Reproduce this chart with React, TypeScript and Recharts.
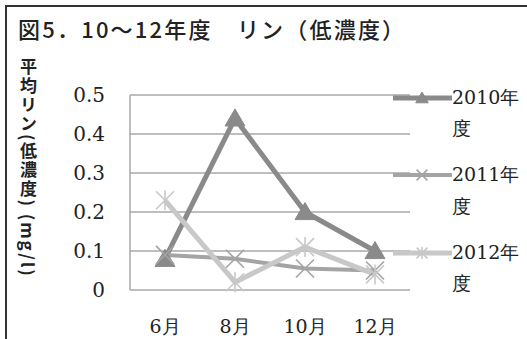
import React from 'react';
import { LineChart, Line, XAxis, YAxis, CartesianGrid } from 'recharts';

const months = ['6月', '8月', '10月', '12月'];
const y2010 = [0.08, 0.44, 0.2, 0.1];
const y2011 = [0.09, 0.08, 0.055, 0.05];
const y2012 = [0.23, 0.02, 0.11, 0.04];
const yTicks = [0, 0.1, 0.2, 0.3, 0.4, 0.5];

const seriesInfo = [
  { key: 's2010', name: '2010年', tail: '度', color: '#8a8a8a', width: 5, marker: 'triangle' },
  { key: 's2011', name: '2011年', tail: '度', color: '#a4a4a4', width: 4, marker: 'x' },
  { key: 's2012', name: '2012年', tail: '度', color: '#c8c8c8', width: 5, marker: 'star' },
];

const data = months.map((m, i) => ({
  month: m,
  s2010: y2010[i],
  s2011: y2011[i],
  s2012: y2012[i],
}));

const serif = '"DejaVu Serif", "Liberation Serif", serif';
const gothic = '"Noto Sans CJK JP", sans-serif';

function Marker({ type, cx, cy, color, r }: { type: string; cx: number; cy: number; color: string; r: number }) {
  if (type === 'triangle') {
    return (
      <path
        d={`M${cx},${cy - r} L${cx + r * 1.05},${cy + r * 0.8} L${cx - r * 1.05},${cy + r * 0.8} Z`}
        fill={color}
        stroke={color}
        strokeWidth={1}
      />
    );
  }
  const lines = [
    <line key="a" x1={cx - r * 0.9} y1={cy - r * 0.9} x2={cx + r * 0.9} y2={cy + r * 0.9} stroke={color} strokeWidth={1.6} />,
    <line key="b" x1={cx - r * 0.9} y1={cy + r * 0.9} x2={cx + r * 0.9} y2={cy - r * 0.9} stroke={color} strokeWidth={1.6} />,
  ];
  if (type === 'star') {
    lines.push(<line key="c" x1={cx} y1={cy - r} x2={cx} y2={cy + r} stroke={color} strokeWidth={1.6} />);
  }
  return <g>{lines}</g>;
}

const makeDot = (type: string, color: string) => (props: any) => {
  const { cx, cy, index } = props;
  if (cx == null || cy == null) return <g key={index} />;
  return (
    <g key={index}>
      <Marker type={type} cx={cx} cy={cy} color={color} r={type === 'triangle' ? 9.5 : 10} />
    </g>
  );
};

// legend drawn beside the plot (as in the original, it overlaps the gridline ends)
function SideLegend() {
  return (
    <div style={{ position: 'absolute', left: 393, top: 82, width: 134, fontFamily: serif, fontSize: 19, color: '#222' }}>
      {seriesInfo.map((s) => (
        <div key={s.key} style={{ height: 77.5 }}>
          <div style={{ display: 'flex', alignItems: 'center', height: 31 }}>
            <svg width={59} height={20} style={{ display: 'block' }}>
              <line x1={0} y1={10} x2={59} y2={10} stroke={s.color} strokeWidth={s.width} strokeLinecap="round" />
              <Marker type={s.marker} cx={29} cy={10} color={s.color} r={6} />
            </svg>
            <span style={{ whiteSpace: 'nowrap' }}>{s.name}</span>
          </div>
          <div style={{ height: 31, lineHeight: '31px', marginLeft: 59 }}>{s.tail}</div>
        </div>
      ))}
    </div>
  );
}

export default function App() {
  return (
    <div style={{ position: 'absolute', left: 0, top: 0, width: 527, height: 339, background: '#fff', overflow: 'hidden' }}>
      <div style={{ position: 'absolute', left: 5, top: 5, width: 522, height: 334, borderLeft: '2px solid #333', borderTop: '2px solid #333' }} />
      <div
        style={{
          position: 'absolute',
          left: 18,
          top: 12,
          fontFamily: gothic,
          fontSize: 22,
          fontWeight: 500,
          color: '#222',
          whiteSpace: 'nowrap',
          letterSpacing: 2.2,
          lineHeight: '32px',
        }}
      >
        図5．10～12年度　リン（低濃度）
      </div>
      <div
        style={{
          position: 'absolute',
          left: 19,
          top: 58,
          writingMode: 'vertical-rl',
          fontFamily: gothic,
          fontSize: 17,
          fontWeight: 700,
          color: '#222',
          whiteSpace: 'nowrap',
          lineHeight: '18px',
          letterSpacing: 2,
        }}
      >
        平均リン(低濃度) (mg/l)
      </div>
      <LineChart
        width={527}
        height={339}
        data={data}
        margin={{ top: 95, right: 117, bottom: 19, left: 80 }}
        style={{ position: 'absolute', left: 0, top: 0 }}
      >
        <CartesianGrid vertical={false} stroke="#a8a8a8" strokeWidth={1.5} />
        <XAxis
          dataKey="month"
          height={30}
          padding={{ left: 35, right: 35 }}
          axisLine={false}
          tickLine={false}
          tickSize={0}
          tickMargin={30}
          tick={{ fontFamily: serif, fontSize: 19, fill: '#222' }}
          interval={0}
        />
        <YAxis
          width={50}
          domain={[0, 0.5]}
          ticks={yTicks}
          interval={0}
          axisLine={{ stroke: '#a8a8a8', strokeWidth: 1.5 }}
          tickLine={false}
          tickSize={0}
          tickMargin={25}
          tick={{ fontFamily: serif, fontSize: 20, fill: '#222' }}
        />
        {seriesInfo.map((s) => (
          <Line
            key={s.key}
            dataKey={s.key}
            name={s.name}
            stroke={s.color}
            strokeWidth={s.width}
            dot={makeDot(s.marker, s.color)}
            activeDot={false}
            isAnimationActive={false}
            strokeLinejoin="round"
          />
        ))}
      </LineChart>
      <SideLegend />
    </div>
  );
}
